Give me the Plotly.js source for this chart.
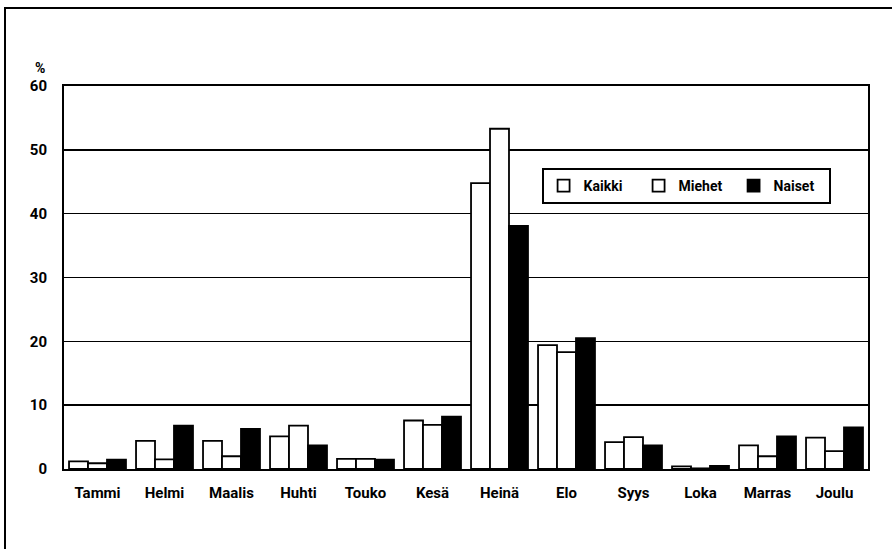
<!DOCTYPE html>
<html>
<head>
<meta charset="utf-8">
<script src="https://cdn.plot.ly/plotly-3.0.1.min.js"></script>
<style>
html,body{margin:0;padding:0;background:#fff;}
#wrap{position:relative;width:892px;height:549px;overflow:hidden;}
#frame{position:absolute;left:4px;top:7px;width:900px;height:560px;border-left:2px solid #000;border-top:2px solid #000;pointer-events:none;}
#chart{position:absolute;left:0;top:0;width:892px;height:549px;}
</style>
</head>
<body>
<div id="wrap">
<div id="chart"></div>
<div id="frame"></div>
</div>
<script>
const months = ["Tammi","Helmi","Maalis","Huhti","Touko","Kesä","Heinä","Elo","Syys","Loka","Marras","Joulu"];
const kaikki = [1.2, 4.4, 4.4, 5.1, 1.6, 7.6, 44.8, 19.4, 4.2, 0.4, 3.7, 4.9];
const miehet = [0.9, 1.5, 2.0, 6.8, 1.6, 6.9, 53.3, 18.3, 5.0, 0.1, 2.0, 2.8];
const naiset = [1.45, 6.8, 6.3, 3.7, 1.45, 8.2, 38.1, 20.5, 3.7, 0.5, 5.1, 6.5];
const seriesNames = ["Kaikki","Miehet","Naiset"];
const yTicks = [0,10,20,30,40,50,60];

const font = "Roboto, Liberation Sans, sans-serif";

const traces = [
  {type:"bar", name:seriesNames[0], x:months, y:kaikki,
   marker:{color:"#ffffff", line:{color:"#000", width:1.8}}},
  {type:"bar", name:seriesNames[1], x:months, y:miehet,
   marker:{color:"#ffffff", line:{color:"#000", width:1.8}}},
  {type:"bar", name:seriesNames[2], x:months, y:naiset,
   marker:{color:"#000000", line:{color:"#000", width:1.8}}}
];

const layout = {
  width:892, height:549,
  margin:{l:64, r:24, t:86, b:80},
  paper_bgcolor:"rgba(0,0,0,0)", plot_bgcolor:"#fff",
  font:{family:font, size:14, color:"#000", weight:"bold"},
  barmode:"group", bargap:0.15, bargroupgap:0,
  showlegend:true,
  legend:{orientation:"h", x:0.594, y:0.786, xanchor:"left", yanchor:"top",
    bgcolor:"#fff", bordercolor:"#000", borderwidth:2,
    entrywidth:50, entrywidthmode:"pixels", itemwidth:30,
    font:{family:font, size:14, color:"#000", weight:"bold"}, traceorder:"normal"},
  xaxis:{type:"category", showline:true, linecolor:"#000", linewidth:2, mirror:true,
    showgrid:false, ticks:"", ticklabelstandoff:9, automargin:false,
    tickfont:{family:font, size:15, color:"#000", weight:"bold"}},
  yaxis:{range:[0,60], tickvals:yTicks, ticktext:yTicks.map(String),
    showline:true, linecolor:"#000", linewidth:2, mirror:true, automargin:false,
    showgrid:true, gridcolor:"#000", gridwidth:1.5, zeroline:false, ticks:"",
    ticklabelstandoff:12,
    tickfont:{family:font, size:15, color:"#000", weight:"bold"}},
  annotations:[{text:"%", xref:"paper", yref:"paper", x:-0.03, y:1.02,
    xanchor:"center", yanchor:"bottom", showarrow:false,
    font:{family:font, size:14, color:"#000", weight:"bold"}}]
};

Plotly.newPlot("chart", traces, layout, {displayModeBar:false, staticPlot:true});
</script>
</body>
</html>
